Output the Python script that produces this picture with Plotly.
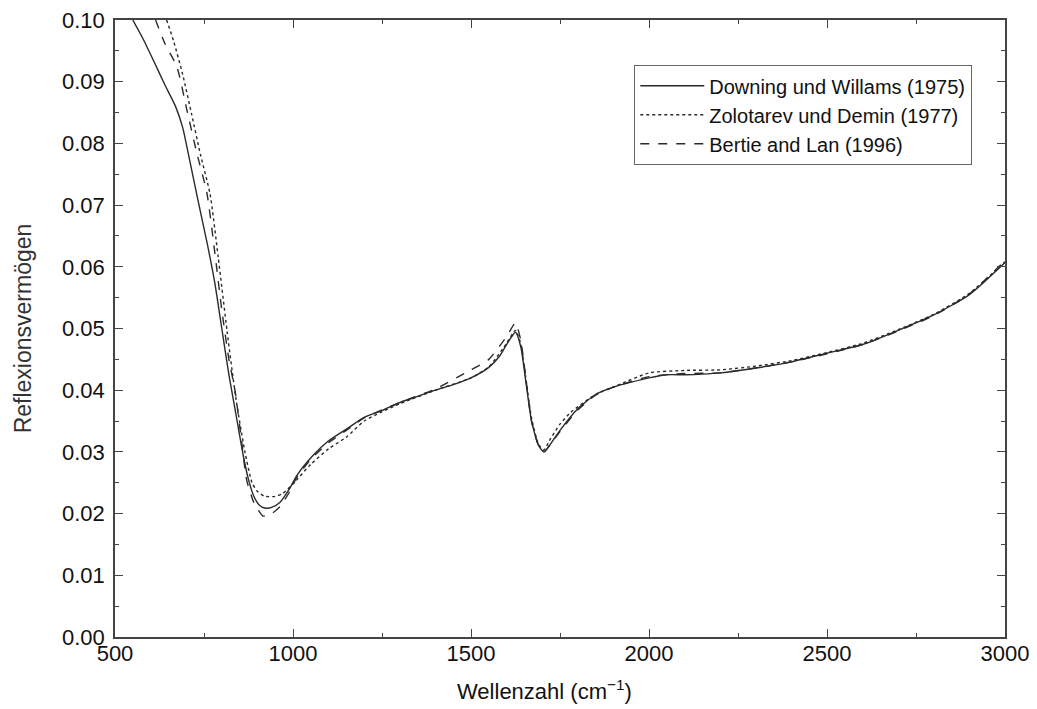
import plotly.graph_objects as go

# Reflectance of water vs. wavenumber from three data sets
wn_downing = [550, 580, 610, 640, 670, 690, 710, 733, 760, 780, 800, 820, 840, 860, 875,
              890, 905, 921, 940, 963, 990, 1011, 1056, 1100, 1150, 1200, 1250, 1300,
              1350, 1400, 1450, 1500, 1550, 1580, 1600, 1625, 1640, 1655, 1670, 1690,
              1705, 1720, 1750, 1800, 1850, 1900, 1950, 2000, 2050, 2100, 2150, 2200,
              2300, 2400, 2500, 2600, 2700, 2800, 2900, 3000]
r_downing = [0.1000, 0.0968, 0.0932, 0.0895, 0.0860, 0.0826, 0.0772, 0.0708, 0.0635,
             0.0575, 0.0500, 0.0425, 0.0360, 0.0295, 0.0255, 0.0228, 0.0214, 0.0209,
             0.0210, 0.0218, 0.0240, 0.0262, 0.0294, 0.0318, 0.0337, 0.0356, 0.0367,
             0.0380, 0.0390, 0.0400, 0.0409, 0.0420, 0.0437, 0.0455, 0.0474, 0.0494,
             0.0470, 0.0410, 0.0350, 0.0310, 0.0300, 0.0310, 0.0335, 0.0370, 0.0393,
             0.0405, 0.0413, 0.0420, 0.0425, 0.0425, 0.0426, 0.0428, 0.0436, 0.0446,
             0.0460, 0.0474, 0.0497, 0.0522, 0.0555, 0.0607]

wn_zolotarev = [645, 665, 690, 715, 740, 767, 790, 815, 840, 865, 885, 900, 920, 950,
                970, 1000, 1050, 1100, 1150, 1200, 1250, 1300, 1400, 1500, 1550, 1600,
                1625, 1640, 1655, 1670, 1690, 1705, 1720, 1750, 1780, 1850, 1920, 2000,
                2100, 2200, 2300, 2400, 2500, 2600, 2700, 2800, 2900, 3000]
r_zolotarev = [0.1000, 0.0965, 0.0912, 0.0848, 0.0782, 0.0718, 0.0615, 0.0495, 0.0385,
               0.0300, 0.0250, 0.0236, 0.0228, 0.0228, 0.0232, 0.0248, 0.0280, 0.0305,
               0.0324, 0.0350, 0.0365, 0.0378, 0.0400, 0.0420, 0.0438, 0.0476, 0.0497,
               0.0474, 0.0415, 0.0355, 0.0312, 0.0303, 0.0318, 0.0345, 0.0364, 0.0393,
               0.0410, 0.0428, 0.0432, 0.0433, 0.0439, 0.0448, 0.0461, 0.0476, 0.0498,
               0.0523, 0.0557, 0.0608]

wn_bertie = [614, 640, 674, 702, 730, 758, 780, 800, 820, 837, 855, 870, 890, 902, 916,
             935, 963, 990, 1011, 1050, 1100, 1150, 1200, 1300, 1400, 1500, 1550, 1600,
             1625, 1640, 1655, 1670, 1690, 1705, 1720, 1750, 1800, 1850, 1900, 2000,
             2100, 2200, 2300, 2400, 2500, 2600, 2700, 2800, 2900, 3000]
r_bertie = [0.1000, 0.0962, 0.0924, 0.0854, 0.0784, 0.0720, 0.0625, 0.0530, 0.0450,
            0.0400, 0.0320, 0.0254, 0.0218, 0.0206, 0.0196, 0.0198, 0.0211, 0.0235,
            0.0259, 0.0288, 0.0315, 0.0335, 0.0355, 0.0380, 0.0402, 0.0433, 0.0450,
            0.0487, 0.0509, 0.0480, 0.0415, 0.0350, 0.0310, 0.0300, 0.0310, 0.0333,
            0.0368, 0.0392, 0.0405, 0.0422, 0.0427, 0.0428, 0.0436, 0.0446, 0.0459,
            0.0474, 0.0496, 0.0521, 0.0556, 0.0610]

names = ["Downing und Willams (1975)", "Zolotarev und Demin (1977)", "Bertie and Lan (1996)"]
dashes = ["solid", "dot", "dash"]
series = [(wn_downing, r_downing), (wn_zolotarev, r_zolotarev), (wn_bertie, r_bertie)]

FONT = "Liberation Sans, Arial, Helvetica, sans-serif"

fig = go.Figure()
for (x, y), name, dash in zip(series, names, dashes):
    fig.add_trace(go.Scatter(
        x=x, y=y, mode="lines", name=name,
        line=dict(color="#2a2a2a", width=1.4, dash=dash, shape="spline", smoothing=0.6),
    ))

axis_common = dict(
    showline=True, linecolor="#444444", linewidth=1.5, mirror="ticks",
    ticks="inside", ticklen=8, tickcolor="#444444", tickwidth=1.2,
    showgrid=False, zeroline=False,
    tickfont=dict(family=FONT, size=22, color="#111111"),
)

fig.update_xaxes(
    range=[500, 3000], tick0=500, dtick=500,
    minor=dict(ticks="inside", ticklen=4, dtick=250, tickcolor="#444444"),
    ticklabelstandoff=-4,
    **axis_common,
)
fig.update_yaxes(
    range=[0, 0.10], tick0=0, dtick=0.01, tickformat=".2f",
    minor=dict(ticks="inside", ticklen=4, dtick=0.005, tickcolor="#444444"),
    ticklabelstandoff=4,
    title=dict(text="Reflexionsvermögen", standoff=24,
               font=dict(family=FONT, size=23, color="#333333")),
    **axis_common,
)

# x-axis title, placed slightly left of the plot centre
fig.add_annotation(
    text="Wellenzahl (cm<sup>−1</sup>)", xref="paper", yref="paper",
    x=0.483, y=-0.086, xanchor="center", yanchor="middle", showarrow=False,
    font=dict(family=FONT, size=22, color="#111111"),
)

fig.update_layout(
    width=1037, height=709,
    margin=dict(l=115, r=32, t=20, b=72, autoexpand=False),
    plot_bgcolor="white", paper_bgcolor="white",
    font=dict(family=FONT, color="#111111"),
    legend=dict(
        x=0.963, xanchor="right", y=0.927, yanchor="top",
        bordercolor="#666666", borderwidth=1.2, bgcolor="white",
        font=dict(family=FONT, size=20, color="#111111"),
        tracegroupgap=0, itemwidth=64,
    ),
)

fig.write_html("out.html")
